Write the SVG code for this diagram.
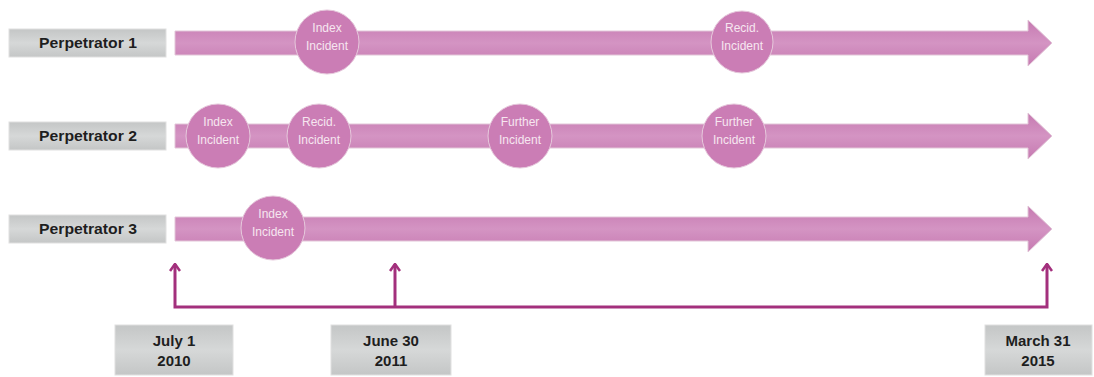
<svg xmlns="http://www.w3.org/2000/svg" width="1094" height="377" viewBox="0 0 1094 377">
<defs>
<linearGradient id="shaft" x1="0" y1="0" x2="0" y2="1">
<stop offset="0" stop-color="#c67ab1"/>
<stop offset="0.5" stop-color="#d494c3"/>
<stop offset="1" stop-color="#c67ab1"/>
</linearGradient>
<linearGradient id="gray" x1="0" y1="0" x2="0" y2="1">
<stop offset="0" stop-color="#c4c6c6"/>
<stop offset="0.5" stop-color="#d6d8d8"/>
<stop offset="1" stop-color="#c4c6c6"/>
</linearGradient>
<marker id="up" viewBox="0 0 12 12" refX="11" refY="6" markerWidth="12" markerHeight="12" markerUnits="userSpaceOnUse" orient="auto-start-reverse">
<path d="M4,1 L11,6 L4,11" fill="none" stroke="#a3307d" stroke-width="2.6"/>
</marker>
</defs>
<style>
.lbl{fill:url(#gray);stroke:#e0e0e0;stroke-width:1}
.lt{font-family:"Liberation Sans",Arial,sans-serif;font-size:14px;font-weight:bold;fill:#1e1e1e;text-anchor:middle}
.arr{fill:url(#shaft);stroke:#e2c6d8;stroke-width:1}
.ev{fill:#cb7db5;stroke:#e6c9dc;stroke-width:1}
.et{font-family:"Liberation Sans",Arial,sans-serif;font-size:12px;fill:#f6e6f0;text-anchor:middle}
.br{fill:none;stroke:#a3307d;stroke-width:3}
.dt{font-family:"Liberation Sans",Arial,sans-serif;font-size:15px;font-weight:bold;fill:#1e1e1e;text-anchor:middle}
</style>

<g id="row1">
<rect class="lbl" x="9" y="29" width="157" height="28"/>
<text class="lt" x="88" y="48" textLength="98" lengthAdjust="spacingAndGlyphs">Perpetrator 1</text>
<polygon class="arr" points="175,31 1028,31 1028,20 1052,43 1028,66 1028,55 175,55"/>
</g>
<g id="row2">
<rect class="lbl" x="9" y="122" width="157" height="28"/>
<text class="lt" x="88" y="141" textLength="98" lengthAdjust="spacingAndGlyphs">Perpetrator 2</text>
<polygon class="arr" points="175,124 1028,124 1028,113 1052,136 1028,159 1028,148 175,148"/>
</g>
<g id="row3">
<rect class="lbl" x="9" y="215" width="157" height="28"/>
<text class="lt" x="88" y="234" textLength="98" lengthAdjust="spacingAndGlyphs">Perpetrator 3</text>
<polygon class="arr" points="175,217 1028,217 1028,206 1052,229 1028,252 1028,241 175,241"/>
</g>

<g id="e1-index">
<circle class="ev" cx="327" cy="42" r="32"/>
<text class="et" x="327" y="32">Index</text>
<text class="et" x="327" y="50">Incident</text>
</g>
<g id="e1-recid">
<circle class="ev" cx="742" cy="42" r="31"/>
<text class="et" x="742" y="32">Recid.</text>
<text class="et" x="742" y="50">Incident</text>
</g>
<g id="e2-index">
<circle class="ev" cx="218" cy="136" r="32"/>
<text class="et" x="218" y="126">Index</text>
<text class="et" x="218" y="144">Incident</text>
</g>
<g id="e2-recid">
<circle class="ev" cx="319" cy="136" r="32"/>
<text class="et" x="319" y="126">Recid.</text>
<text class="et" x="319" y="144">Incident</text>
</g>
<g id="e2-further1">
<circle class="ev" cx="520" cy="136" r="32"/>
<text class="et" x="520" y="126">Further</text>
<text class="et" x="520" y="144">Incident</text>
</g>
<g id="e2-further2">
<circle class="ev" cx="734" cy="136" r="32"/>
<text class="et" x="734" y="126">Further</text>
<text class="et" x="734" y="144">Incident</text>
</g>
<g id="e3-index">
<circle class="ev" cx="273" cy="228" r="32"/>
<text class="et" x="273" y="218">Index</text>
<text class="et" x="273" y="236">Incident</text>
</g>

<g id="connectors">
<path class="br" d="M175,264 V307 H1047 V264" marker-start="url(#up)" marker-end="url(#up)"/>
<path class="br" d="M395,307 V264" marker-end="url(#up)"/>
</g>

<g id="d2010">
<rect class="lbl" x="115" y="325" width="118" height="50"/>
<text class="dt" x="174" y="346">July 1</text>
<text class="dt" x="174" y="366">2010</text>
</g>
<g id="d2011">
<rect class="lbl" x="331" y="325" width="120" height="50"/>
<text class="dt" x="391" y="346">June 30</text>
<text class="dt" x="391" y="366">2011</text>
</g>
<g id="d2015">
<rect class="lbl" x="985" y="325" width="107" height="50"/>
<text class="dt" x="1038" y="346">March 31</text>
<text class="dt" x="1038" y="366">2015</text>
</g>
</svg>
